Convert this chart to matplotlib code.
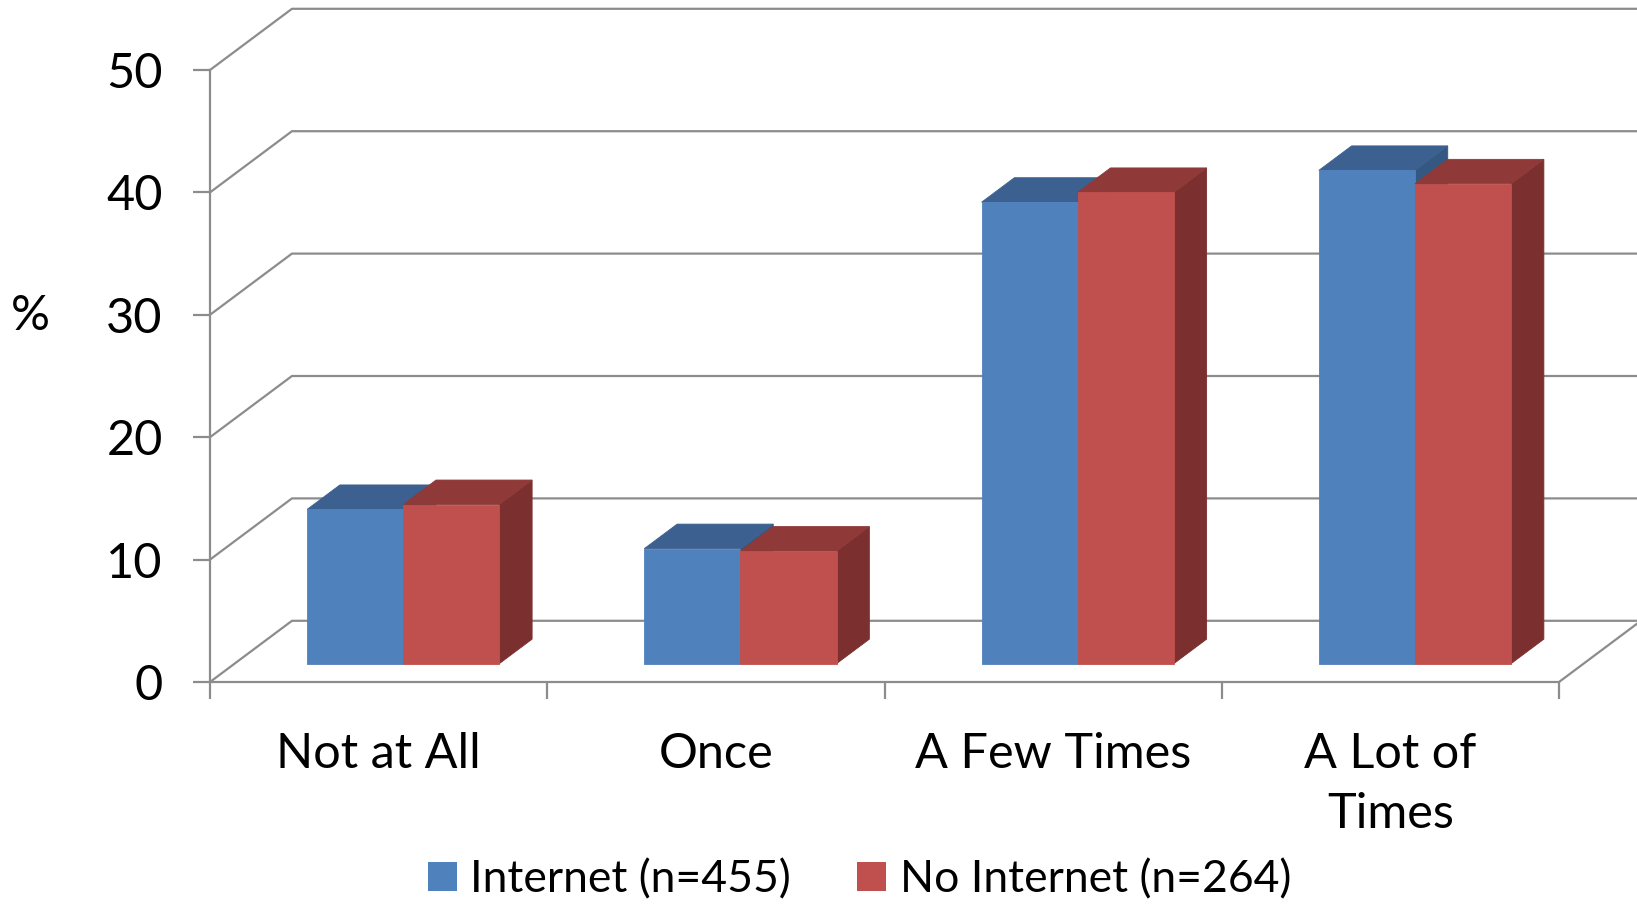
import numpy as np
import matplotlib
matplotlib.use("Agg")
from matplotlib import pyplot as plt
from matplotlib.patches import Polygon, Patch

plt.rcParams["font.family"] = ["Lato", "DejaVu Sans"]

categories = ["Not at All", "Once", "A Few Times", "A Lot of\nTimes"]
internet = [12.6, 9.4, 37.7, 40.3]
no_internet = [13.0, 9.2, 38.5, 39.2]
series_labels = ["Internet (n=455)", "No Internet (n=264)"]
y_ticks = [0, 10, 20, 30, 40, 50]

# face colours: front, top, side
blue = ("#4f81bd", "#3c6190", "#345882")
red = ("#c0504d", "#8f3a38", "#7b2f2e")
grid_color = "#8c8c8c"

# oblique depth offset, in data units (category units, percent)
DX, DY = 0.243, 5.0
bar_w = 0.285
d0, d1 = 0.3, 0.7   # bars sit in the middle of the floor depth


def proj(x, y, d):
    return (x + d * DX, y + d * DY)


def draw_box(ax, x0, x1, v, colors, z):
    front = [proj(x0, 0, d0), proj(x1, 0, d0), proj(x1, v, d0), proj(x0, v, d0)]
    top = [proj(x0, v, d0), proj(x1, v, d0), proj(x1, v, d1), proj(x0, v, d1)]
    side = [proj(x1, 0, d0), proj(x1, 0, d1), proj(x1, v, d1), proj(x1, v, d0)]
    for pts, c in zip((side, top, front), (colors[2], colors[1], colors[0])):
        ax.add_patch(Polygon(pts, closed=True, facecolor=c, edgecolor=c,
                             linewidth=0.6, zorder=z, clip_on=False))


fig = plt.figure(figsize=(16.37, 9.05), dpi=100)
ax = fig.add_axes([210 / 1637, 223 / 905, 1349 / 1637, 612 / 905])
ax.set_xlim(-0.5, 3.5)
ax.set_ylim(0, 50)

# back wall and left wall gridlines
x_left, x_right = -0.5, 3.5
for t in y_ticks:
    ax.plot([x_left, x_left + DX, x_right + 2 * DX], [t, t + DY, t + DY],
            color=grid_color, lw=1.6, clip_on=False, zorder=1)
# right edge of the floor
ax.plot([x_right, x_right + 2 * DX], [0, 2 * DY],
        color=grid_color, lw=1.6, clip_on=False, zorder=1)

x = np.arange(len(categories))
for i in range(len(categories)):
    draw_box(ax, x[i] - bar_w, x[i], internet[i], blue, 3 + 2 * i)
    draw_box(ax, x[i], x[i] + bar_w, no_internet[i], red, 4 + 2 * i)

for side in ("top", "right"):
    ax.spines[side].set_visible(False)
for side in ("left", "bottom"):
    ax.spines[side].set_color(grid_color)
    ax.spines[side].set_linewidth(1.6)
    ax.spines[side].set_zorder(2)

ax.set_yticks(y_ticks)
ax.set_yticklabels([str(t) for t in y_ticks])
ax.tick_params(axis="y", length=12, width=1.6, color=grid_color,
               pad=22, labelsize=35)
ax.set_xticks(x)
ax.set_xticklabels(categories, linespacing=1.45)
ax.set_xticks(np.arange(-0.5, 4.0, 1.0), minor=True)
ax.tick_params(axis="x", which="major", length=0, pad=36, labelsize=35)
ax.tick_params(axis="x", which="minor", length=12, width=1.6, color=grid_color)

ax.set_ylabel("%", rotation=0, fontsize=35, ha="center", va="center")
ax.yaxis.set_label_coords(-0.1334, 0.598)

handles = [Patch(facecolor=blue[0]), Patch(facecolor=red[0])]
fig.legend(handles, series_labels, loc="center", bbox_to_anchor=(0.525, 0.028),
           ncol=2, frameon=False, fontsize=32, handlelength=0.65,
           handleheight=0.65, handletextpad=0.3, columnspacing=1.5)

fig.savefig("out.png", dpi=100)
